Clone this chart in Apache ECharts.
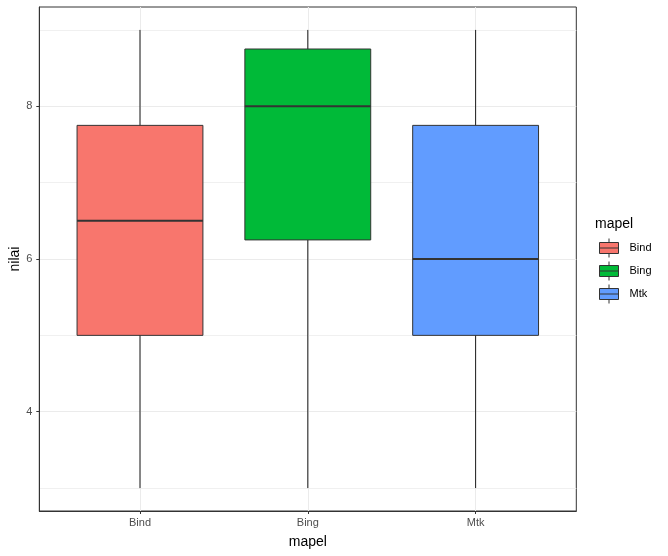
<!DOCTYPE html>
<html>
<head>
<meta charset="utf-8">
<script src="https://cdn.jsdelivr.net/npm/echarts@6/dist/echarts.min.js"></script>
<style>
html,body{margin:0;padding:0;background:#fff;}
#chart{width:668px;height:556px;}
</style>
</head>
<body>
<div id="chart"></div>
<script>
// ---- data ----
const categories = ['Bind', 'Bing', 'Mtk'];
const seriesColors = ['#F8766D', '#00BA38', '#619CFF'];
// [min, Q1, median, Q3, max]
const statsBind = [3, 5, 6.5, 7.75, 9];
const statsBing = [3, 6.25, 8, 8.75, 9];
const statsMtk  = [3, 5, 6, 7.75, 9];
const yMajorTicks = [4, 6, 8];
const yMinorTicks = [3, 5, 7, 9];
const xTicks = [1, 2, 3];

const allStats = [statsBind, statsBing, statsMtk];

const chart = echarts.init(document.getElementById('chart'), null, {renderer: 'canvas'});

function renderBox(params, api) {
  const x = api.value(0);
  const lo = api.coord([x, api.value(1)]);
  const q1 = api.coord([x, api.value(2)]);
  const md = api.coord([x, api.value(3)]);
  const q3 = api.coord([x, api.value(4)]);
  const hi = api.coord([x, api.value(5)]);
  const w = api.size([0.75, 0])[0];
  const color = api.visual('color');
  return {
    type: 'group',
    children: [
      {type: 'line', shape: {x1: lo[0], y1: lo[1], x2: hi[0], y2: hi[1]},
        style: {stroke: '#1a1a1a', lineWidth: 1}},
      {type: 'rect', shape: {x: q3[0] - w / 2, y: q3[1], width: w, height: q1[1] - q3[1]},
        style: {fill: color, stroke: '#333333', lineWidth: 1}},
      {type: 'line', shape: {x1: md[0] - w / 2, y1: md[1], x2: md[0] + w / 2, y2: md[1]},
        style: {stroke: '#333333', lineWidth: 2}}
    ]
  };
}

const legendIcon = 'path://M0,4H19V15H0Z M0,9.5H19 M9.5,0V4 M9.5,15V19';

const series = categories.map((name, i) => ({
  name: name,
  type: 'custom',
  xAxisIndex: 0,
  yAxisIndex: 0,
  renderItem: renderBox,
  itemStyle: {color: seriesColors[i]},
  data: [[i + 1].concat(allStats[i])],
  z: 3
}));

const option = {
  backgroundColor: '#ffffff',
  animation: false,
  textStyle: {fontFamily: 'Liberation Sans, Arial, sans-serif'},
  title: {
    text: 'mapel',
    left: 595,
    top: 217,
    padding: 0,
    textStyle: {fontSize: 14, fontWeight: 'normal', color: '#000000', fontFamily: 'Liberation Sans, Arial, sans-serif'}
  },
  legend: {
    orient: 'vertical',
    left: 599,
    top: 238,
    padding: 0,
    itemWidth: 19,
    itemHeight: 20,
    itemGap: 3,
    selectedMode: false,
    textStyle: {fontSize: 11, color: '#000000', padding: [0, 0, 0, 6]},
    data: categories.map((name, i) => ({
      name: name,
      icon: legendIcon,
      itemStyle: {color: seriesColors[i], borderColor: '#333333', borderWidth: 1}
    }))
  },
  grid: {
    left: 39.3, right: 91.7, top: 7, bottom: 45,
    outerBoundsMode: 'none',
    containLabel: false,
    show: true, borderColor: '#333333', borderWidth: 1, backgroundColor: '#ffffff'
  },
  xAxis: {
    type: 'value',
    min: 0.4, max: 3.6,
    name: 'mapel',
    nameLocation: 'middle',
    nameGap: 24,
    nameMoveOverlap: false,
    nameTextStyle: {fontSize: 14, color: '#000000'},
    axisLine: {show: true, lineStyle: {color: '#333333', width: 1}},
    axisTick: {show: true, length: 3, customValues: xTicks, lineStyle: {color: '#333333'}},
    axisLabel: {
      customValues: xTicks, fontSize: 11, color: '#4d4d4d', margin: 6,
      formatter: v => categories[Math.round(v) - 1] || ''
    },
    splitLine: {show: true, lineStyle: {color: '#ebebeb', width: 1}}
  },
  yAxis: [
    {
      type: 'value',
      min: 2.7, max: 9.3,
      name: 'nilai',
      nameLocation: 'middle',
      nameGap: 17,
      nameMoveOverlap: false,
      nameTextStyle: {fontSize: 14, color: '#000000'},
      axisLine: {show: true, lineStyle: {color: '#333333', width: 1}},
      axisTick: {show: true, length: 3, customValues: yMajorTicks, lineStyle: {color: '#333333'}},
      axisLabel: {customValues: yMajorTicks, fontSize: 11, color: '#4d4d4d', margin: 7},
      splitLine: {show: true, lineStyle: {color: '#ebebeb', width: 1}},
      z: 2
    },
    {
      type: 'value',
      min: 2.7, max: 9.3,
      position: 'left',
      axisLine: {show: false},
      axisTick: {show: false, customValues: yMinorTicks},
      axisLabel: {show: false, customValues: yMinorTicks},
      splitLine: {show: true, lineStyle: {color: '#f0f0f0', width: 1}},
      z: 1
    }
  ],
  series: series
};

chart.setOption(option);
</script>
</body>
</html>
